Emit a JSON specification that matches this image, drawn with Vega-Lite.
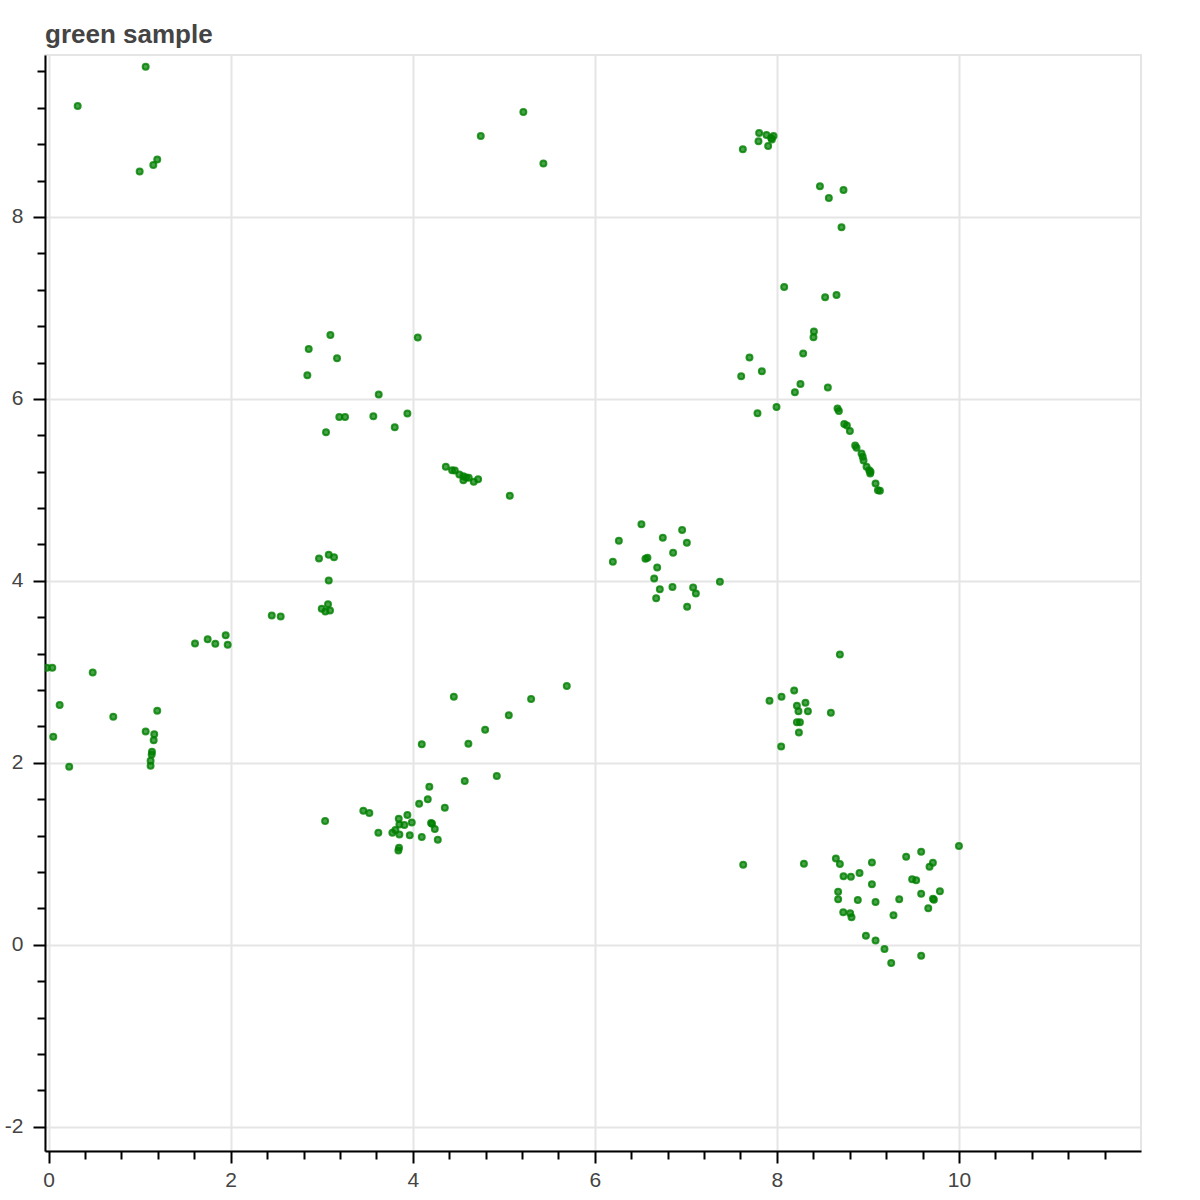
{
"$schema": "https://vega.github.io/schema/vega-lite/v6.json",
"autosize": "none",
"width": 1096,
"height": 1096,
"padding": {"left": 45, "top": 55, "right": 59, "bottom": 49},
"background": "white",
"config": {"view": {"stroke": "#e5e5e5", "strokeWidth": 2}},
"title": {"text": "green sample", "anchor": "start", "frame": "group", "font": "Liberation Sans", "fontSize": 26, "fontWeight": "bold", "color": "#444444", "baseline": "alphabetic", "offset": -14},
"data": {"values": [
{"x":1.066,"y":9.65},{"x":0.319,"y":9.22},{"x":1.193,"y":8.63},{"x":1.15,"y":8.57},{"x":1.0,"y":8.5},
{"x":5.215,"y":9.154},{"x":4.747,"y":8.89},{"x":5.435,"y":8.587},
{"x":7.626,"y":8.744},{"x":7.805,"y":8.923},{"x":7.886,"y":8.9},{"x":7.798,"y":8.832},{"x":7.904,"y":8.78},{"x":7.937,"y":8.868},{"x":7.963,"y":8.89},{"x":7.945,"y":8.85},
{"x":8.473,"y":8.337},{"x":8.732,"y":8.297},{"x":8.571,"y":8.209},{"x":8.71,"y":7.887},{"x":8.08,"y":7.231},{"x":8.53,"y":7.118},{"x":8.655,"y":7.143},{"x":8.407,"y":6.741},{"x":8.402,"y":6.678},
{"x":8.289,"y":6.499},{"x":7.699,"y":6.455},{"x":7.835,"y":6.304},{"x":7.608,"y":6.25},{"x":8.259,"y":6.165},{"x":8.198,"y":6.074},{"x":8.56,"y":6.125},{"x":7.996,"y":5.912},{"x":7.787,"y":5.843},
{"x":8.666,"y":5.895},{"x":8.681,"y":5.868},{"x":8.74,"y":5.725},{"x":8.769,"y":5.708},{"x":8.802,"y":5.648},{"x":8.86,"y":5.488},{"x":8.875,"y":5.462},{"x":8.93,"y":5.4},{"x":8.943,"y":5.363},{"x":8.952,"y":5.323},{"x":8.985,"y":5.253},{"x":9.014,"y":5.216},{"x":9.025,"y":5.18},{"x":9.029,"y":5.198},{"x":9.084,"y":5.07},{"x":9.11,"y":4.997},{"x":9.132,"y":4.989},
{"x":3.095,"y":6.703},{"x":2.857,"y":6.549},{"x":3.168,"y":6.447},{"x":2.842,"y":6.261},{"x":4.055,"y":6.675},{"x":3.626,"y":6.048},{"x":3.193,"y":5.802},{"x":3.256,"y":5.802},{"x":3.567,"y":5.81},{"x":3.941,"y":5.84},{"x":3.802,"y":5.689},{"x":3.047,"y":5.634},
{"x":4.363,"y":5.253},{"x":4.432,"y":5.216},{"x":4.462,"y":5.213},{"x":4.512,"y":5.169},{"x":4.556,"y":5.151},{"x":4.586,"y":5.136},{"x":4.615,"y":5.132},{"x":4.556,"y":5.107},{"x":4.67,"y":5.088},{"x":4.718,"y":5.118},{"x":5.066,"y":4.934},
{"x":6.512,"y":4.623},{"x":6.264,"y":4.44},{"x":6.959,"y":4.56},{"x":6.747,"y":4.473},{"x":7.011,"y":4.418},{"x":6.198,"y":4.209},{"x":6.556,"y":4.242},{"x":6.578,"y":4.253},{"x":6.86,"y":4.308},{"x":6.685,"y":4.147},{"x":6.652,"y":4.026},{"x":7.374,"y":3.989},{"x":6.714,"y":3.909},{"x":6.853,"y":3.931},{"x":7.08,"y":3.927},{"x":7.11,"y":3.862},{"x":6.674,"y":3.81},{"x":7.014,"y":3.714},
{"x":-0.02,"y":3.044},{"x":0.04,"y":3.044},{"x":0.484,"y":2.993},{"x":0.121,"y":2.634},{"x":0.71,"y":2.505},{"x":0.051,"y":2.286},{"x":0.226,"y":1.956},
{"x":1.193,"y":2.571},{"x":1.066,"y":2.345},{"x":1.16,"y":2.315},{"x":1.154,"y":2.249},{"x":1.135,"y":2.121},{"x":1.132,"y":2.092},{"x":1.12,"y":2.022},{"x":1.12,"y":1.967},
{"x":1.608,"y":3.312},{"x":1.747,"y":3.359},{"x":1.831,"y":3.308},{"x":1.945,"y":3.403},{"x":1.967,"y":3.297},{"x":2.451,"y":3.62},{"x":2.549,"y":3.609},
{"x":2.97,"y":4.246},{"x":3.077,"y":4.286},{"x":3.135,"y":4.26},{"x":3.077,"y":4.004},{"x":3.069,"y":3.744},{"x":3.0,"y":3.692},{"x":3.04,"y":3.664},{"x":3.091,"y":3.675},
{"x":3.037,"y":1.36},{"x":3.457,"y":1.473},{"x":3.523,"y":1.447},{"x":3.622,"y":1.231},{"x":3.776,"y":1.231},{"x":3.809,"y":1.26},{"x":3.846,"y":1.385},{"x":3.853,"y":1.323},{"x":3.853,"y":1.213},{"x":3.908,"y":1.315},{"x":3.941,"y":1.425},{"x":3.989,"y":1.345},{"x":3.967,"y":1.205},{"x":3.849,"y":1.066},{"x":3.842,"y":1.037},
{"x":4.099,"y":1.184},{"x":4.07,"y":1.549},{"x":4.165,"y":1.598},{"x":4.182,"y":1.736},{"x":4.201,"y":1.337},{"x":4.212,"y":1.33},{"x":4.242,"y":1.271},{"x":4.275,"y":1.154},{"x":4.352,"y":1.505},{"x":4.571,"y":1.799},{"x":4.923,"y":1.854},
{"x":4.099,"y":2.205},{"x":4.451,"y":2.725},{"x":4.611,"y":2.209},{"x":4.795,"y":2.363},{"x":5.055,"y":2.524},{"x":5.3,"y":2.7},{"x":5.692,"y":2.843},
{"x":8.692,"y":3.191},{"x":8.19,"y":2.796},{"x":8.051,"y":2.725},{"x":7.919,"y":2.681},{"x":8.22,"y":2.626},{"x":8.314,"y":2.659},{"x":8.237,"y":2.568},{"x":8.341,"y":2.568},{"x":8.593,"y":2.549},{"x":8.22,"y":2.447},{"x":8.253,"y":2.447},{"x":8.242,"y":2.334},{"x":8.047,"y":2.18},
{"x":7.63,"y":0.879},{"x":8.297,"y":0.89},{"x":8.648,"y":0.949},{"x":8.692,"y":0.887},{"x":9.044,"y":0.905},{"x":9.42,"y":0.967},{"x":9.585,"y":1.022},{"x":10.0,"y":1.085},{"x":9.714,"y":0.901},{"x":9.677,"y":0.857},
{"x":8.732,"y":0.752},{"x":8.813,"y":0.747},{"x":8.908,"y":0.788},{"x":9.044,"y":0.664},{"x":9.486,"y":0.719},{"x":9.53,"y":0.708},{"x":8.673,"y":0.582},{"x":8.673,"y":0.499},{"x":8.889,"y":0.491},{"x":9.084,"y":0.469},{"x":9.344,"y":0.499},{"x":9.585,"y":0.56},{"x":9.791,"y":0.587},{"x":9.715,"y":0.505},{"x":9.725,"y":0.495},{"x":9.663,"y":0.4},
{"x":9.281,"y":0.323},{"x":8.729,"y":0.356},{"x":8.805,"y":0.345},{"x":8.82,"y":0.301},{"x":8.978,"y":0.099},{"x":9.084,"y":0.048},{"x":9.182,"y":-0.047},{"x":9.256,"y":-0.201},{"x":9.585,"y":-0.121}
]},
"mark": {"type": "point", "shape": "circle", "filled": true, "fill": "green", "fillOpacity": 0.72, "stroke": "green", "strokeOpacity": 0.8, "strokeWidth": 2, "size": 36, "clip": true},
"encoding": {
  "x": {"field": "x", "type": "quantitative", "title": null,
    "scale": {"domain": [-0.04, 12.0], "nice": false, "zero": false},
    "axis": {
      "values": [0,0.4,0.8,1.2,1.6,2,2.4,2.8,3.2,3.6,4,4.4,4.8,5.2,5.6,6,6.4,6.8,7.2,7.6,8,8.4,8.8,9.2,9.6,10,10.4,10.8,11.2,11.6],
      "domainColor": "black", "domainWidth": 2,
      "tickColor": "black", "tickWidth": 2,
      "tickSize": {"condition": {"test": "abs(datum.value/2 - round(datum.value/2)) < 0.001", "value": 12}, "value": 8},
      "grid": true, "gridWidth": 2,
      "gridColor": {"condition": {"test": "abs(datum.value/2 - round(datum.value/2)) < 0.001", "value": "#e5e5e5"}, "value": "transparent"},
      "labelExpr": "abs(datum.value/2 - round(datum.value/2)) < 0.001 ? toString(datum.value) : ''",
      "labelFont": "Liberation Sans", "labelFontSize": 21, "labelColor": "#444444",
      "labelPadding": 6, "labelOverlap": false, "labelFlush": false, "labelBound": false
    }
  },
  "y": {"field": "y", "type": "quantitative", "title": null,
    "scale": {"domain": [-2.267, 9.78], "nice": false, "zero": false},
    "axis": {
      "values": [-2,-1.6,-1.2,-0.8,-0.4,0,0.4,0.8,1.2,1.6,2,2.4,2.8,3.2,3.6,4,4.4,4.8,5.2,5.6,6,6.4,6.8,7.2,7.6,8,8.4,8.8,9.2,9.6],
      "domainColor": "black", "domainWidth": 2,
      "tickColor": "black", "tickWidth": 2,
      "tickSize": {"condition": {"test": "abs(datum.value/2 - round(datum.value/2)) < 0.001", "value": 12}, "value": 8},
      "grid": true, "gridWidth": 2,
      "gridColor": {"condition": {"test": "abs(datum.value/2 - round(datum.value/2)) < 0.001", "value": "#e5e5e5"}, "value": "transparent"},
      "labelExpr": "abs(datum.value/2 - round(datum.value/2)) < 0.001 ? toString(datum.value) : ''",
      "labelFont": "Liberation Sans", "labelFontSize": 21, "labelColor": "#444444",
      "labelPadding": 10, "labelOverlap": false, "labelFlush": false, "labelBound": false
    }
  }
}
}
